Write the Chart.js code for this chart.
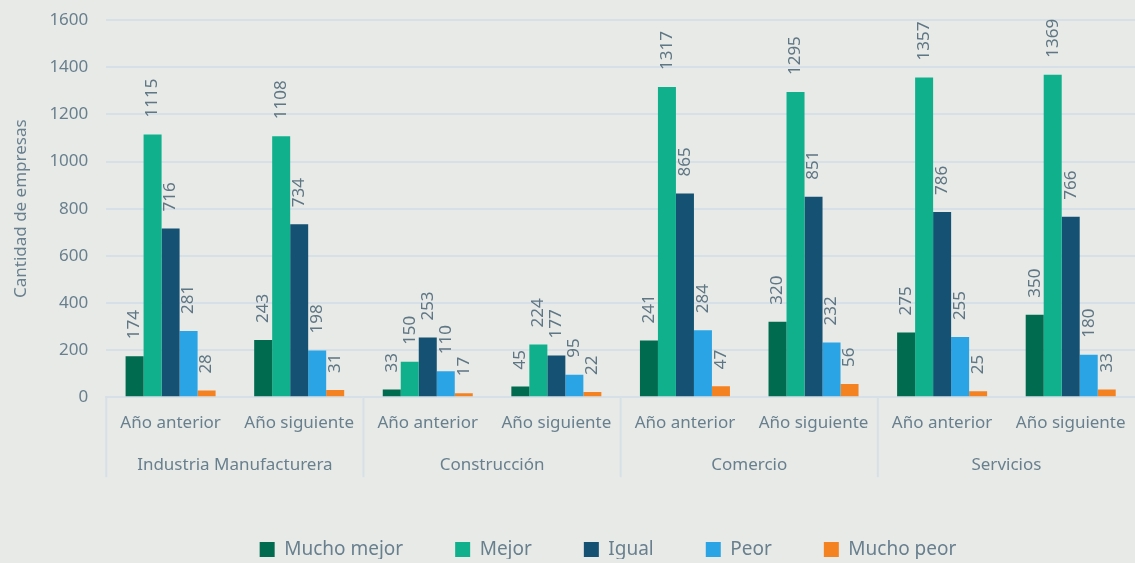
<!DOCTYPE html>
<html>
<head>
<meta charset="utf-8">
<script src="https://cdn.jsdelivr.net/npm/chart.js@4.4.1/dist/chart.umd.min.js"></script>
<style>
    html, body { margin: 0; padding: 0; background: #e8eae7; overflow: hidden; }
    #wrap { width: 1135px; height: 571px; margin-top: -8px; }
</style>
</head>
<body>
<div id="wrap"><canvas id="chart"></canvas></div>
<script>
const periods = ['Año anterior', 'Año siguiente', 'Año anterior', 'Año siguiente',
    'Año anterior', 'Año siguiente', 'Año anterior', 'Año siguiente'];
const sectors = ['Industria Manufacturera', 'Construcción', 'Comercio', 'Servicios'];

const muchoMejor = [174, 243, 33, 45, 241, 320, 275, 350];
const mejor = [1115, 1108, 150, 224, 1317, 1295, 1357, 1369];
const igual = [716, 734, 253, 177, 865, 851, 786, 766];
const peor = [281, 198, 110, 95, 284, 232, 255, 180];
const muchoPeor = [28, 31, 17, 22, 47, 56, 25, 33];

const textColor = '#687f8e';
const gridColor = '#d6e0e6';
const fontFamily = "'Noto Sans', sans-serif";

// rotated value labels above each bar
const valueLabels = {
    id: 'valueLabels',
    afterDatasetsDraw(chart) {
        const ctx = chart.ctx;
        ctx.save();
        ctx.fillStyle = '#5f7684';
        ctx.font = '17px ' + fontFamily;
        ctx.textAlign = 'left';
        ctx.textBaseline = 'middle';
        chart.data.datasets.forEach((ds, i) => {
            const meta = chart.getDatasetMeta(i);
            meta.data.forEach((bar, j) => {
                ctx.save();
                ctx.translate(bar.x, bar.y - 17);
                ctx.rotate(-Math.PI / 2);
                ctx.fillText(ds.data[j], 0, 0);
                ctx.restore();
            });
        });
        ctx.restore();
    }
};

// vertical separators between sector groups under the axis
const groupLines = {
    id: 'groupLines',
    afterDraw(chart) {
        const ctx = chart.ctx;
        const x = chart.scales.x;
        const top = chart.chartArea.bottom;
        const half = (x.getPixelForValue(1) - x.getPixelForValue(0)) / 2;
        ctx.save();
        ctx.strokeStyle = gridColor;
        ctx.lineWidth = 2;
        for (let i = 0; i < sectors.length; i++) {
            const px = x.getPixelForValue(i * 2) - half;
            ctx.beginPath();
            ctx.moveTo(px, top);
            ctx.lineTo(px, top + 80);
            ctx.stroke();
        }
        ctx.restore();
    }
};

// legend sits a bit lower and right of centre, like the original
const legendShift = {
    id: 'legendShift',
    beforeInit(chart) {
        const legend = chart.legend;
        const fit = legend.fit;
        legend.fit = function() {
            fit.call(legend);
            legend.height -= 10;
        };
        const draw = legend.draw;
        legend.draw = function() {
            chart.ctx.save();
            chart.ctx.translate(35, 0);
            draw.call(legend);
            chart.ctx.restore();
        };
    }
};

new Chart(document.getElementById('chart'), {
    type: 'bar',
    data: {
        labels: periods,
        datasets: [
            { label: 'Mucho mejor', data: muchoMejor, backgroundColor: '#006b4f' },
            { label: 'Mejor', data: mejor, backgroundColor: '#10b08c' },
            { label: 'Igual', data: igual, backgroundColor: '#145172' },
            { label: 'Peor', data: peor, backgroundColor: '#2aa4e4' },
            { label: 'Mucho peor', data: muchoPeor, backgroundColor: '#f58220' }
        ]
    },
    options: {
        responsive: true,
        maintainAspectRatio: false,
        animation: false,
        barPercentage: 1,
        categoryPercentage: 0.7,
        layout: { padding: { top: 0, right: 0, left: 11, bottom: 4 } },
        scales: {
            x: {
                grid: { display: false },
                border: { color: gridColor, width: 2 },
                ticks: { color: textColor, font: { family: fontFamily, size: 17 }, padding: 8 }
            },
            x2: {
                type: 'category',
                labels: sectors,
                position: 'bottom',
                grid: { display: false },
                border: { display: false },
                ticks: { color: textColor, font: { family: fontFamily, size: 17 }, padding: 5 },
                afterFit(scale) { scale.height += 8; }
            },
            y: {
                min: 0,
                max: 1600,
                ticks: {
                    stepSize: 200,
                    color: textColor,
                    font: { family: fontFamily, size: 17 },
                    padding: 18,
                    callback: v => String(v)
                },
                grid: { color: gridColor, lineWidth: 2, drawTicks: false },
                border: { display: false },
                title: {
                    display: true,
                    text: 'Cantidad de empresas',
                    color: textColor,
                    font: { family: fontFamily, size: 17 },
                    padding: 0
                }
            }
        },
        plugins: {
            legend: {
                position: 'bottom',
                labels: {
                    color: textColor,
                    font: { family: fontFamily, size: 19 },
                    boxWidth: 15,
                    boxHeight: 15,
                    padding: 52
                }
            },
            tooltip: { enabled: false }
        }
    },
    plugins: [valueLabels, groupLines, legendShift]
});
</script>
</body>
</html>
